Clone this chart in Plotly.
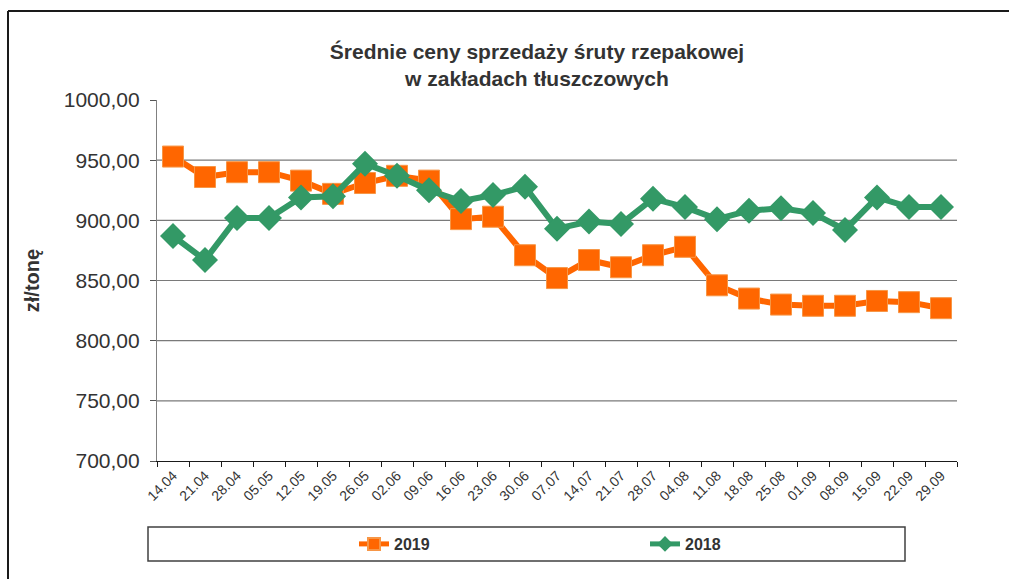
import plotly.graph_objects as go

categories = ["14.04", "21.04", "28.04", "05.05", "12.05", "19.05", "26.05", "02.06",
              "09.06", "16.06", "23.06", "30.06", "07.07", "14,07", "21.07", "28.07",
              "04.08", "11.08", "18.08", "25.08", "01.09", "08.09", "15.09", "22.09", "29.09"]
values_2019 = [953, 936, 940, 940, 933, 922, 931, 937, 933, 901, 903, 871, 852,
               867, 861, 871, 878, 846, 835, 830, 829, 829, 833, 832, 827]
values_2018 = [887, 867, 902, 902, 919, 920, 947, 937, 925, 916, 921, 928, 893,
               899, 897, 918, 911, 901, 908, 910, 906, 892, 919, 911, 911]
grid_values = [750, 800, 850, 900, 950]
y_ticks = [700, 750, 800, 850, 900, 950, 1000]
y_tick_labels = ["700,00", "750,00", "800,00", "850,00", "900,00", "950,00", "1000,00"]

W, H = 1009, 579
L, R, T, B = 157, 957, 100, 461
pw, ph = R - L, B - T


def px(x):
    return (x - L) / pw


def py(y):
    return (B - y) / ph


fig = go.Figure()
fig.add_trace(go.Scatter(
    x=categories, y=values_2019, name="<b>2019</b>", mode="lines+markers",
    line=dict(color="#FF6600", width=6),
    marker=dict(symbol="square", size=21, color="#FF6600",
                line=dict(color="#F79646", width=1)),
))
fig.add_trace(go.Scatter(
    x=categories, y=values_2018, name="<b>2018</b>", mode="lines+markers",
    line=dict(color="#339966", width=6),
    marker=dict(symbol="diamond", size=20, color="#339966",
                line=dict(color="#339966", width=0)),
))

for g in grid_values:
    fig.add_shape(type="line", xref="paper", x0=0, x1=1, yref="y", y0=g, y1=g,
                  line=dict(color="#7a7a7a", width=1.2), layer="below")

# outer chart frame
fig.add_shape(type="line", xref="paper", yref="paper", x0=px(8), x1=px(1012), y0=py(11), y1=py(11),
              line=dict(color="#1a1a1a", width=2))
fig.add_shape(type="line", xref="paper", yref="paper", x0=px(8), x1=px(8), y0=py(11), y1=py(585),
              line=dict(color="#1a1a1a", width=2))
# legend box
fig.add_shape(type="rect", xref="paper", yref="paper", x0=px(148), x1=px(905), y0=py(561), y1=py(527),
              line=dict(color="#404040", width=1.5), fillcolor="rgba(0,0,0,0)")

fig.update_layout(
    width=W, height=H,
    margin=dict(l=L, r=W - R, t=T, b=H - B, autoexpand=False),
    paper_bgcolor="white", plot_bgcolor="white",
    font=dict(family="Liberation Sans, Arial, sans-serif", color="#333333"),
    title=dict(
        text="<b>Średnie ceny sprzedaży śruty rzepakowej<br>w zakładach tłuszczowych</b>",
        x=px(537), xanchor="center", xref="paper",
        y=1 - 59 / H, yanchor="middle",
        font=dict(size=21, color="#333333"),
    ),
    showlegend=True,
    legend=dict(
        orientation="h", x=px(354), xanchor="left", y=py(544), yanchor="middle",
        entrywidth=246, entrywidthmode="pixels", itemsizing="constant",
        font=dict(size=16, color="#333333", family="Liberation Sans, Arial, sans-serif"),
        bgcolor="rgba(0,0,0,0)", borderwidth=0,
    ),
    xaxis=dict(
        type="category", categoryorder="array", categoryarray=categories,
        range=[-0.5, len(categories) - 0.5],
        showgrid=False, showline=True, linecolor="#1a1a1a", linewidth=1.2,
        ticks="outside", ticklen=5, tickcolor="#1a1a1a", tickson="boundaries",
        tickangle=-45, tickfont=dict(size=14, color="#333333"),
        zeroline=False,
    ),
    yaxis=dict(
        range=[700, 1000], tickvals=y_ticks, ticktext=y_tick_labels,
        showgrid=False, showline=True, linecolor="#808080", linewidth=1.2,
        ticks="outside", ticklen=6, tickcolor="#555555", ticklabelstandoff=6,
        tickfont=dict(size=21, color="#333333"), zeroline=False,
        title=dict(text="<b>zł/tonę</b>", font=dict(size=20, color="#333333"), standoff=18),
    ),
)

fig.write_html(
    "out.html",
    config={"displayModeBar": False},
    post_script="document.body.style.margin='0';document.body.style.overflow='hidden';",
)
